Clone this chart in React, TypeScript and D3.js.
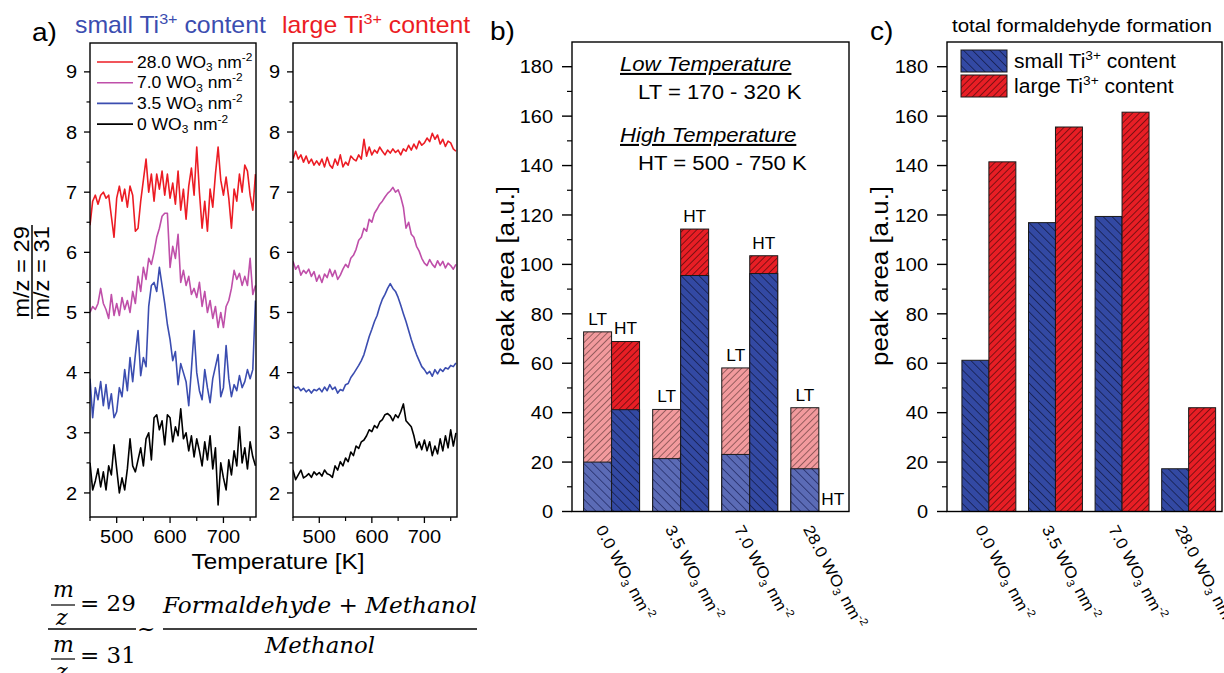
import React from 'react';
import * as d3 from 'd3';

// ---- panel a: m/z 29 / m/z 31 ratio vs temperature ----
const TEMPS = [
  450, 455, 460, 465, 470, 475, 480, 485, 490, 495,
  500, 505, 510, 515, 520, 525, 530, 535, 540, 545,
  550, 555, 560, 565, 570, 575, 580, 585, 590, 595,
  600, 605, 610, 615, 620, 625, 630, 635, 640, 645,
  650, 655, 660, 665, 670, 675, 680, 685, 690, 695,
  700, 705, 710, 715, 720, 725, 730, 735, 740, 745,
  750, 755, 760,
];

// small Ti3+ content
const SMALL_28 = [
  6.45, 6.85, 6.95, 6.8, 6.95, 7.0, 6.9, 6.95, 6.6, 6.25,
  6.9, 7.1, 6.85, 7.05, 6.75, 7.1, 6.95, 6.35, 6.4, 6.85,
  7.2, 7.55, 7.0, 7.3, 6.85, 7.3, 7.05, 7.35, 6.95, 7.3,
  6.9, 7.15, 6.8, 7.35, 6.7, 7.05, 6.55, 7.1, 7.4, 6.95,
  7.75, 7.0, 6.4, 6.85, 6.35, 7.05, 6.75, 7.3, 7.75, 7.2,
  6.95, 7.25, 6.9, 6.4, 7.05, 6.85, 7.3, 7.0, 7.45, 7.35,
  6.95, 6.7, 7.3,
];
const SMALL_7 = [
  5.0, 5.1, 5.05, 5.15, 5.4, 5.15, 5.05, 4.9, 5.3, 4.95,
  5.15, 4.95, 5.25, 5.05, 5.2, 5.0, 5.35, 5.15, 5.6, 5.35,
  5.75, 5.55, 5.9, 5.8, 6.0, 6.25, 6.4, 6.6, 6.65, 6.65,
  5.75, 6.1, 5.9, 6.3, 5.5, 5.7, 5.45, 5.6, 5.3, 5.4,
  5.25, 5.5, 5.1, 5.35, 5.0, 5.2, 4.9, 5.1, 4.75, 5.0,
  4.75, 5.1, 5.2, 5.4, 5.7, 5.55, 5.65, 5.45, 5.6, 5.45,
  5.9, 5.3, 5.45,
];
const SMALL_35 = [
  3.9, 3.25, 3.75, 3.55, 3.85, 3.45, 3.8, 3.4, 3.65, 3.25,
  3.35, 3.75, 3.6, 4.05, 3.7, 4.25, 3.85, 4.3, 4.7, 3.95,
  4.25, 4.1, 5.1, 5.45, 5.5, 5.35, 5.75, 5.45, 5.15, 4.8,
  4.55, 4.2, 4.35, 3.8, 4.15, 4.0, 3.85, 3.45, 4.05, 4.7,
  4.0, 3.7, 3.55, 4.05, 3.75, 3.5, 3.9, 4.1, 4.3, 3.6,
  3.75, 4.45, 3.9, 3.6, 3.8, 3.7, 3.95, 3.75, 3.85, 4.05,
  3.9, 4.05, 5.2,
];
const SMALL_0 = [
  2.5, 2.05, 2.2, 2.4, 2.1, 2.35, 2.05, 2.45, 2.3, 2.8,
  2.4, 2.0, 2.25, 2.05, 2.4, 2.9, 2.45, 2.35, 2.55, 2.75,
  2.45, 2.9, 3.0, 2.55, 3.25, 3.3, 3.05, 3.2, 2.8, 3.3,
  3.25, 2.85, 3.1, 2.95, 3.4, 2.9, 3.0, 2.7, 2.95, 2.6,
  2.9, 2.7, 2.45, 2.85, 2.55, 2.95, 2.4, 2.75, 1.8, 2.5,
  2.25, 2.05, 2.55, 2.3, 2.7, 2.45, 3.1, 2.5, 2.75, 2.4,
  2.85, 2.6, 2.45,
];

// large Ti3+ content
const LARGE_28 = [
  7.55, 7.68, 7.55, 7.62, 7.5, 7.6, 7.48, 7.55, 7.45, 7.52,
  7.45, 7.55, 7.42, 7.58, 7.45, 7.4, 7.55, 7.45, 7.62, 7.42,
  7.5, 7.45, 7.6, 7.55, 7.52, 7.62, 7.55, 7.88, 7.6, 7.75,
  7.62, 7.7, 7.65, 7.75, 7.68, 7.62, 7.7, 7.65, 7.72, 7.66,
  7.7, 7.62, 7.72, 7.68, 7.78, 7.7, 7.8, 7.72, 7.85, 7.78,
  7.82, 7.9, 7.84, 7.98, 7.88, 7.95, 7.8, 7.88, 7.76, 7.85,
  7.82, 7.72, 7.68,
];
const LARGE_7 = [
  5.85, 5.72, 5.78, 5.62, 5.7, 5.65, 5.72, 5.6, 5.68, 5.52,
  5.62, 5.5, 5.64, 5.58, 5.72, 5.6, 5.7, 5.55, 5.62, 5.72,
  5.8, 5.75, 5.9, 5.95, 6.05, 6.2, 6.25, 6.4, 6.35, 6.55,
  6.5, 6.65, 6.72, 6.8, 6.85, 6.92, 6.98, 7.02, 7.08, 7.0,
  7.04, 6.92, 6.75, 6.4, 6.5, 6.3, 6.25, 6.1, 6.02, 5.9,
  5.82, 5.78, 5.88, 5.8, 5.75, 5.86, 5.78, 5.85, 5.74, 5.82,
  5.78, 5.72, 5.8,
];
const LARGE_35 = [
  3.78, 3.74, 3.76, 3.7, 3.74, 3.68, 3.72, 3.66, 3.72, 3.7,
  3.74, 3.68, 3.76, 3.7, 3.8, 3.72, 3.76, 3.66, 3.72, 3.7,
  3.8, 3.82, 3.92, 3.98, 4.05, 4.12, 4.2, 4.3, 4.45, 4.6,
  4.72, 4.85, 4.95, 5.1, 5.22, 5.3, 5.4, 5.48, 5.4, 5.35,
  5.25, 5.12, 4.98, 4.85, 4.7, 4.55, 4.42, 4.3, 4.2, 4.1,
  4.05, 3.98, 4.02, 3.94, 4.05, 3.98, 4.06, 4.02, 4.08, 4.06,
  4.12, 4.1, 4.16,
];
const LARGE_0 = [
  2.38, 2.22, 2.3, 2.38, 2.25, 2.28, 2.32, 2.26, 2.35, 2.3,
  2.34, 2.28, 2.38, 2.32, 2.3, 2.26, 2.45, 2.38, 2.52, 2.45,
  2.58, 2.52, 2.68, 2.62, 2.78, 2.74, 2.85, 2.88, 2.95, 3.05,
  3.02, 3.12, 3.08, 3.18, 3.22, 3.3, 3.32, 3.28, 3.2, 3.3,
  3.25, 3.35, 3.48, 3.2, 3.15, 3.1, 2.95, 2.75, 2.85, 2.72,
  2.88, 2.7, 2.85, 2.62, 2.78, 2.65, 2.9, 2.7, 2.95, 2.75,
  3.05, 2.78, 3.0,
];

const SERIES_NAMES = ['28.0', '7.0', '3.5', '0'];
const SERIES_COLORS = ['#ec1c24', '#bf4fa9', '#3b4db0', '#000000'];
const A_Y_TICKS = [2, 3, 4, 5, 6, 7, 8, 9];
const A_X_TICKS = [500, 600, 700];
const A_X_MINOR = [450, 550, 650, 750];

// ---- panels b and c: peak areas ----
const LOADINGS = ['0.0', '3.5', '7.0', '28.0'];
const LT_SMALL = [20.0, 21.4, 23.1, 17.3];
const LT_LARGE = [72.7, 41.3, 58.1, 42.0];
const HT_SMALL = [41.2, 95.5, 96.3, 0];
const HT_LARGE = [68.8, 114.3, 103.5, 0];
const BAR_Y_TICKS = [0, 20, 40, 60, 80, 100, 120, 140, 160, 180];

const FONT = '"Liberation Sans", Arial, Helvetica, sans-serif';
const SERIF = '"DejaVu Serif", "Liberation Serif", serif';
const SX = 1.08; // glyphs in the figure are a bit wider than Arial
const INK = '#000';

type TProps = {
  x: number;
  y: number;
  size: number;
  anchor?: string;
  rotate?: number;
  fill?: string;
  italic?: boolean;
  underline?: boolean;
  children: React.ReactNode;
};

const T = ({ x, y, size, anchor = 'start', rotate = 0, fill = INK, italic = false, underline = false, children }: TProps) => (
  <text
    transform={`translate(${x},${y}) rotate(${rotate}) scale(${SX},1)`}
    fontSize={size}
    textAnchor={anchor}
    fill={fill}
    fontFamily={FONT}
    fontStyle={italic ? 'italic' : 'normal'}
    textDecoration={underline ? 'underline' : undefined}
  >
    {children}
  </text>
);

const wo3 = (v: string, size: number) => (
  <>
    {v} WO
    <tspan dy={size * 0.22} fontSize={size * 0.68}>3</tspan>
    <tspan dy={-size * 0.22}> nm</tspan>
    <tspan dy={-size * 0.42} fontSize={size * 0.68}>-2</tspan>
  </>
);

const ti3 = (pre: string, size: number) => (
  <>
    {pre} Ti
    <tspan dy={-size * 0.4} fontSize={size * 0.65}>3+</tspan>
    <tspan dy={size * 0.4}> content</tspan>
  </>
);

const PATTERNS: [string, string, string, number, number][] = [
  ['hBlue', '#3349a3', '#141c48', -45, 6.3],
  ['hBlueLt', '#5b6bb6', '#232c66', -45, 6.3],
  ['hRed', '#e81e25', '#5e0c0c', 45, 4.8],
  ['hPink', '#f29a9d', '#7a4a4a', 45, 4.8],
];

const App = () => {
  // panel a scales
  const aY = d3.scaleLinear().domain([1.6, 9.48]).range([517, 43]);
  const aXL = d3.scaleLinear().domain([450, 761]).range([90, 256]);
  const aXR = d3.scaleLinear().domain([450, 762]).range([293, 457]);
  const aPanels = [
    { x: aXL, series: [SMALL_28, SMALL_7, SMALL_35, SMALL_0] },
    { x: aXR, series: [LARGE_28, LARGE_7, LARGE_35, LARGE_0] },
  ];
  const aMinorY = A_Y_TICKS.slice(0, -1).map((t) => t + 0.5);

  // panel b / c scales
  const barY = d3.scaleLinear().domain([0, 190]).range([511.5, 42]);
  const bX = d3.scaleBand().domain(LOADINGS).range([572, 849]).paddingInner(0.19).paddingOuter(0.1).align(0.84);
  const bSub = d3.scaleBand().domain(['LT', 'HT']).range([0, bX.bandwidth()]);
  const cX = d3.scaleBand().domain(LOADINGS).range([947, 1222]).paddingInner(0.19).paddingOuter(0.16).align(0.7);
  const cSub = d3.scaleBand().domain(['small', 'large']).range([0, cX.bandwidth()]);
  const barMinor = BAR_Y_TICKS.map((t) => t + 10);

  const smallTotal = LT_SMALL.map((v, i) => v + HT_SMALL[i]);
  const largeTotal = LT_LARGE.map((v, i) => v + HT_LARGE[i]);

  const bar = (x: number, w: number, v: number, fill: string, key: string) =>
    v > 0 ? (
      <rect key={key} x={x} y={barY(v)} width={w} height={barY(0) - barY(v)} fill={`url(#${fill})`} stroke="#1a1a1a" strokeWidth={1} />
    ) : null;

  const barFrame = (x0: number, x1: number) => (
    <g>
      <rect x={x0} y={barY(190)} width={x1 - x0} height={barY(0) - barY(190)} fill="none" stroke="#000" strokeWidth={1.4} />
      {BAR_Y_TICKS.map((t) => (
        <g key={t}>
          <line x1={x0 - 10} x2={x0} y1={barY(t)} y2={barY(t)} stroke="#000" strokeWidth={1.4} />
          <T x={x0 - 19} y={barY(t) + 6.7} size={18.5} anchor="end">{t}</T>
        </g>
      ))}
      {barMinor.filter((t) => t < 190).map((t) => (
        <line key={t} x1={x0 - 5} x2={x0} y1={barY(t)} y2={barY(t)} stroke="#000" strokeWidth={1.2} />
      ))}
    </g>
  );

  return (
    <svg width={1224} height={673} style={{ position: 'absolute', left: 0, top: 0, background: '#fff' }}>
      <defs>
        {PATTERNS.map(([id, bg, fg, ang, s]) => (
          <pattern key={id} id={id} patternUnits="userSpaceOnUse" width={s} height={s} patternTransform={`rotate(${ang})`}>
            <rect width={s} height={s} fill={bg} />
            <line x1={s / 2} x2={s / 2} y1={0} y2={s} stroke={fg} strokeWidth={0.9} strokeOpacity={0.85} />
          </pattern>
        ))}
      </defs>

      {/* ---------- panel a ---------- */}
      <T x={32} y={41} size={26}>a)</T>
      <T x={75} y={33} size={23} fill="#3b4db0">{ti3('small', 23)}</T>
      <T x={282} y={33} size={23} fill="#ec1c24">{ti3('large', 23)}</T>

      {aPanels.map((p, pi) => {
        const [x0, x1] = p.x.range();
        const line = d3.line<number>().x((_, i) => p.x(TEMPS[i])).y((v) => aY(v));
        return (
          <g key={pi}>
            <defs>
              <clipPath id={`clipA${pi}`}>
                <rect x={x0} y={43} width={x1 - x0} height={474} />
              </clipPath>
            </defs>
            <g clipPath={`url(#clipA${pi})`}>
              {p.series.map((s, si) => (
                <path key={si} d={line(s) || ''} fill="none" stroke={SERIES_COLORS[si]} strokeWidth={1.6} strokeLinejoin="round" />
              ))}
            </g>
            <rect x={x0} y={43} width={x1 - x0} height={474} fill="none" stroke="#000" strokeWidth={1.4} />
            {A_Y_TICKS.map((t) => (
              <g key={t}>
                <line x1={x0 - 6} x2={x0} y1={aY(t)} y2={aY(t)} stroke="#000" strokeWidth={1.3} />
                <T x={x0 - 13} y={aY(t) + 6.6} size={18.5} anchor="end">{t}</T>
              </g>
            ))}
            {aMinorY.map((t) => (
              <line key={t} x1={x0 - 3.5} x2={x0} y1={aY(t)} y2={aY(t)} stroke="#000" strokeWidth={1.2} />
            ))}
            {A_X_TICKS.map((t) => (
              <g key={t}>
                <line x1={p.x(t)} x2={p.x(t)} y1={517} y2={523} stroke="#000" strokeWidth={1.3} />
                <T x={p.x(t)} y={543} size={18.5} anchor="middle">{t}</T>
              </g>
            ))}
            {A_X_MINOR.map((t) => (
              <line key={t} x1={p.x(t)} x2={p.x(t)} y1={517} y2={521} stroke="#000" strokeWidth={1.2} />
            ))}
          </g>
        );
      })}

      {/* legend */}
      {SERIES_NAMES.map((n, i) => (
        <g key={n}>
          <line x1={97} x2={133} y1={62 + i * 20.7} y2={62 + i * 20.7} stroke={SERIES_COLORS[i]} strokeWidth={1.6} />
          <T x={137} y={62 + i * 20.7 + 5.5} size={16.2}>{wo3(n, 16.2)}</T>
        </g>
      ))}

      <T x={278} y={569} size={22.5} anchor="middle">Temperature [K]</T>

      {/* y label: (m/z = 29) / (m/z = 31) */}
      <g transform="translate(32,272) rotate(-90)">
        <T x={0} y={-3} size={22} anchor="middle">m/z = 29</T>
        <line x1={-47} x2={47} y1={0} y2={0} stroke={INK} strokeWidth={1.5} />
        <T x={0} y={17} size={22} anchor="middle">m/z = 31</T>
      </g>

      {/* formula */}
      <g fontFamily={SERIF} fill={INK}>
        <text x={53} y={597} fontSize={22} fontStyle="italic">m</text>
        <line x1={51} x2={75} y1={605} y2={605} stroke={INK} strokeWidth={1.2} />
        <text x={56} y={625} fontSize={22} fontStyle="italic">z</text>
        <text x={80} y={611} fontSize={23}>= 29</text>
        <line x1={48} x2={136} y1={629} y2={629} stroke={INK} strokeWidth={1.4} />
        <text x={53} y={652} fontSize={22} fontStyle="italic">m</text>
        <line x1={51} x2={75} y1={659} y2={659} stroke={INK} strokeWidth={1.2} />
        <text x={56} y={679} fontSize={22} fontStyle="italic">z</text>
        <text x={80} y={663} fontSize={23}>= 31</text>
        <text x={137} y={636} fontSize={22}>~</text>
        <text x={163} y={613} fontSize={23} fontStyle="italic" textLength={314} lengthAdjust="spacingAndGlyphs">
          Formaldehyde + Methanol
        </text>
        <line x1={163} x2={477} y1={629} y2={629} stroke={INK} strokeWidth={1.4} />
        <text x={320} y={653} fontSize={23} fontStyle="italic" textAnchor="middle" textLength={110} lengthAdjust="spacingAndGlyphs">
          Methanol
        </text>
      </g>

      {/* ---------- panel b ---------- */}
      <T x={490} y={40} size={26}>b)</T>
      {LOADINGS.map((l, i) => {
        const gx = bX(l) || 0;
        const w = bSub.bandwidth();
        const lx = gx + (bSub('LT') || 0);
        const hx = gx + (bSub('HT') || 0);
        return (
          <g key={l}>
            {bar(lx, w, LT_LARGE[i], 'hPink', 'll')}
            {bar(lx, w, LT_SMALL[i], 'hBlueLt', 'ls')}
            {bar(hx, w, HT_LARGE[i], 'hRed', 'hl')}
            {bar(hx, w, HT_SMALL[i], 'hBlue', 'hs')}
            <T x={lx + w / 2} y={barY(Math.max(LT_LARGE[i], LT_SMALL[i])) - 7} size={16} anchor="middle">LT</T>
            <T x={hx + w / 2} y={barY(Math.max(HT_LARGE[i], HT_SMALL[i])) - 7} size={16} anchor="middle">HT</T>
            <T x={gx + bX.bandwidth() / 2 - 16} y={529} size={16} rotate={62}>{wo3(l, 16)}</T>
          </g>
        );
      })}
      {barFrame(572, 849)}
      <T x={514} y={276} size={24} anchor="middle" rotate={-90}>peak area [a.u.]</T>

      <T x={620} y={71} size={20.5} italic underline>Low Temperature</T>
      <T x={638} y={99} size={20.5}>LT = 170 - 320 K</T>
      <T x={620} y={142} size={20.5} italic underline>High Temperature</T>
      <T x={638} y={170} size={20.5}>HT = 500 - 750 K</T>

      {/* ---------- panel c ---------- */}
      <T x={870} y={40} size={26}>c)</T>
      <T x={952} y={32} size={19}>total formaldehyde formation</T>
      {LOADINGS.map((l, i) => {
        const gx = cX(l) || 0;
        const w = cSub.bandwidth();
        return (
          <g key={l}>
            {bar(gx + (cSub('small') || 0), w, smallTotal[i], 'hBlue', 's')}
            {bar(gx + (cSub('large') || 0), w, largeTotal[i], 'hRed', 'l')}
            <T x={gx + cX.bandwidth() / 2 - 14} y={529} size={16} rotate={62}>{wo3(l, 16)}</T>
          </g>
        );
      })}
      {barFrame(947, 1222)}
      <T x={888} y={276} size={24} anchor="middle" rotate={-90}>peak area [a.u.]</T>

      <rect x={961} y={50} width={46} height={22} fill="url(#hBlue)" stroke="#1a1a1a" strokeWidth={1} />
      <rect x={961} y={75} width={46} height={22} fill="url(#hRed)" stroke="#1a1a1a" strokeWidth={1} />
      <T x={1014} y={68} size={19.5}>{ti3('small', 19.5)}</T>
      <T x={1014} y={93} size={19.5}>{ti3('large', 19.5)}</T>
    </svg>
  );
};

export default App;
